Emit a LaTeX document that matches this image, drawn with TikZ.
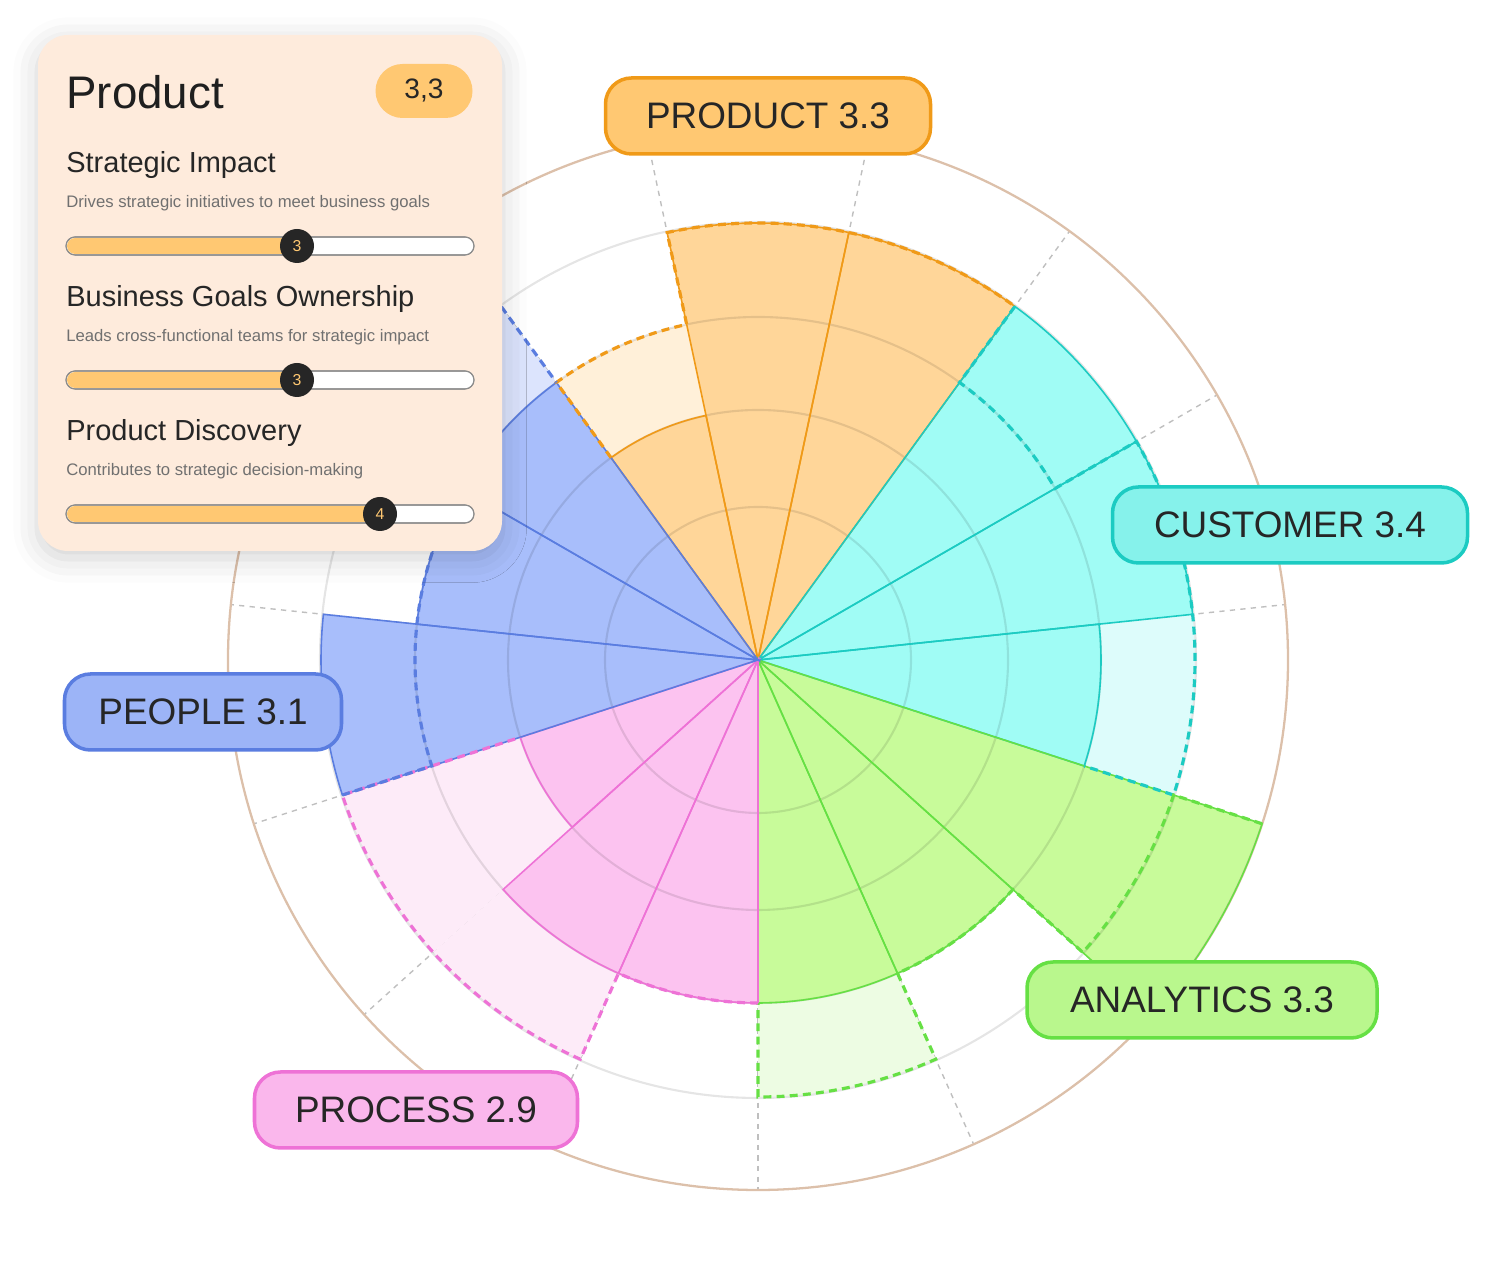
\documentclass[tikz,border=0pt]{standalone}
\usepackage{fontspec}
\setmainfont{Liberation Sans}
\usetikzlibrary{shadows.blur}
\definecolor{oS}{HTML}{FFD699}\definecolor{oL}{HTML}{FFF0D9}\definecolor{oD}{HTML}{F09A18}
\definecolor{cS}{HTML}{A0FCF5}\definecolor{cL}{HTML}{DDFCFB}\definecolor{cD}{HTML}{1CCBC2}
\definecolor{gS}{HTML}{C8FB9A}\definecolor{gL}{HTML}{EDFCE3}\definecolor{gD}{HTML}{66E044}
\definecolor{pS}{HTML}{FCC3F0}\definecolor{pL}{HTML}{FDEBF8}\definecolor{pD}{HTML}{EE72D6}
\definecolor{bS}{HTML}{A8BEFB}\definecolor{bL}{HTML}{DCE4FD}\definecolor{bD}{HTML}{5A7DE0}
\definecolor{ring}{HTML}{DCC0AA}\definecolor{card}{HTML}{FEEBDC}\definecolor{badge}{HTML}{FFC872}
\definecolor{subg}{HTML}{707070}
\tikzset{pill/.style={rounded corners=37\pgflinewidth, minimum height=76*0.02cm, line width=2pt, font=\fontsize{21}{24}\selectfont, text=black!85, inner sep=0pt},
 dashline/.style={dashed, dash pattern=on 4.5pt off 3pt, line width=1.8pt},
 knob/.style={circle, fill=black!85, minimum size=34*0.02cm, inner sep=0pt, text=badge, font=\fontsize{9}{10}\selectfont}}
\newcommand\sect[3]{\path[#3] (0,0) -- ({90-(#1)}:#2) arc[start angle={90-(#1)}, delta angle=-24, radius=#2] -- cycle;}
% category: angle0, S, L, D, s1,t1,s2,t2,s3,t3
\newcommand\cat[9]{%
 \sect{#1}{#4}{fill=#3}\sect{#1+24}{#6}{fill=#3}\sect{#1+48}{#8}{fill=#3}%
 \sect{#1}{#3}{fill=#2}}
\newcommand\catb[9]{%
 \sect{#1}{#2}{fill=#9, draw=#8, line width=0.9pt}%
 \sect{#1+24}{#4}{fill=#9, draw=#8, line width=0.9pt}%
 \sect{#1+48}{#6}{fill=#9, draw=#8, line width=0.9pt}}
\newcommand\catd[8]{%
 \draw[dashline,#8] ({90-(#1)}:#2) -- ({90-(#1)}:#3) arc[start angle={90-(#1)}, delta angle=-24, radius=#3]
 -- ({66-(#1)}:#5) arc[start angle={66-(#1)}, delta angle=-24, radius=#5]
 -- ({42-(#1)}:#7) arc[start angle={42-(#1)}, delta angle=-24, radius=#7] -- ({18-(#1)}:#6);}
\begin{document}
\begin{tikzpicture}[x=0.02cm,y=0.02cm]
\useasboundingbox (0,0) rectangle (1508,1270);
\begin{scope}[shift={(758,610)}]
\foreach \a in {-36,-12,...,312} \draw[black!25, dashed, line width=0.8pt] (0,0) -- ({90-\a}:530);
% light fills
\foreach \a/\r/\c in {-36/343/oL,-12/437/oL,12/437/oL,36/343/cL,60/437/cL,84/437/cL,108/437/gL,132/343/gL,156/437/gL,180/343/pL,204/437/pL,228/437/pL,252/343/bL,276/343/bL,300/437/bL}
  {\sect{\a}{\r}{fill=\c}}
% solid fills
\foreach \a/\r/\c/\d in {-36/250/oS/oD,-12/437/oS/oD,12/437/oS/oD,36/437/cS/cD,60/437/cS/cD,84/343/cS/cD,108/530/gS/gD,132/343/gS/gD,156/343/gS/gD,180/343/pS/pD,204/343/pS/pD,228/250/pS/pD,252/437/bS/bD,276/343/bS/bD,300/343/bS/bD}
  {\sect{\a}{\r}{fill=\c}}
\foreach \r in {153,250,343,438} \draw[black, opacity=0.1, line width=1.2pt] (0,0) circle[radius=\r];
\draw[ring, line width=1.3pt] (0,0) circle[radius=530];
\foreach \a/\r/\c/\d in {-36/250/oS/oD,-12/437/oS/oD,12/437/oS/oD,36/437/cS/cD,60/437/cS/cD,84/343/cS/cD,108/530/gS/gD,132/343/gS/gD,156/343/gS/gD,180/343/pS/pD,204/343/pS/pD,228/250/pS/pD,252/437/bS/bD,276/343/bS/bD,300/343/bS/bD}
  {\sect{\a}{\r}{draw=\d, line width=0.9pt}}
\catd{-36}{250}{343}{437}{437}{437}{437}{oD}
\catd{36}{437}{343}{437}{437}{343}{437}{cD}
\catd{108}{530}{437}{343}{343}{343}{437}{gD}
\catd{180}{343}{343}{343}{437}{250}{437}{pD}
\catd{252}{437}{343}{343}{343}{343}{437}{bD}
\end{scope}
\node[pill, fill=badge, draw=oD, minimum width=325*0.02cm] (lprod) at (768,1154) {PRODUCT 3.3};
\node[pill, fill=cS!80!cD, draw=cD, minimum width=355*0.02cm] (lcust) at (1290,745) {CUSTOMER 3.4};
\node[pill, fill=bS!85!bD, draw=bD, minimum width=277*0.02cm] (lpeop) at (203,558) {PEOPLE 3.1};
\node[pill, fill=gS!85!gD, draw=gD, minimum width=350*0.02cm] (lanal) at (1202,270) {ANALYTICS 3.3};
\node[pill, fill=pS!85!pD, draw=pD, minimum width=323*0.02cm] (lproc) at (416,160) {PROCESS 2.9};
% card
\path[fill=card, rounded corners=30*0.02cm, blur shadow={shadow xshift=0pt, shadow yshift=-4pt, shadow blur radius=14pt, shadow opacity=18}] (38,719) rectangle (502,1235);
\node[anchor=west, inner sep=0pt, font=\fontsize{26}{30}\selectfont, text=black!88] (ctitle) at (66,1178) {Product};
\node[fill=badge, rounded corners=27*0.02cm, minimum width=97*0.02cm, minimum height=54*0.02cm, inner sep=0pt, font=\fontsize{16}{18}\selectfont, text=black!85] (cbadge) at (424,1179) {3,3};
\foreach \y/\h/\s/\k/\v [count=\i] in {1105/Strategic Impact/Drives strategic initiatives to meet business goals/297/3,
  971/Business Goals Ownership/Leads cross-functional teams for strategic impact/297/3,
  837/Product Discovery/Contributes to strategic decision-making/380/4}{
  \node[anchor=west, inner sep=0pt, font=\fontsize{16.5}{19}\selectfont, text=black!85] (h\i) at (66,\y) {\h};
  \node[anchor=west, inner sep=0pt, font=\fontsize{9.5}{11}\selectfont, text=subg] (s\i) at (66,\y-38) {\s};
  \draw[black!45, fill=white, line width=0.6pt, rounded corners=9*0.02cm] (66,\y-90) rectangle (474,\y-72);
  \fill[badge, rounded corners=8*0.02cm] (67,\y-89) rectangle (\k,\y-73);
  \draw[black!45, line width=0.6pt, rounded corners=9*0.02cm] (66,\y-90) rectangle (474,\y-72);
  \node[knob] (k\i) at (\k,\y-81) {\v};
}
\end{tikzpicture}
\end{document}
